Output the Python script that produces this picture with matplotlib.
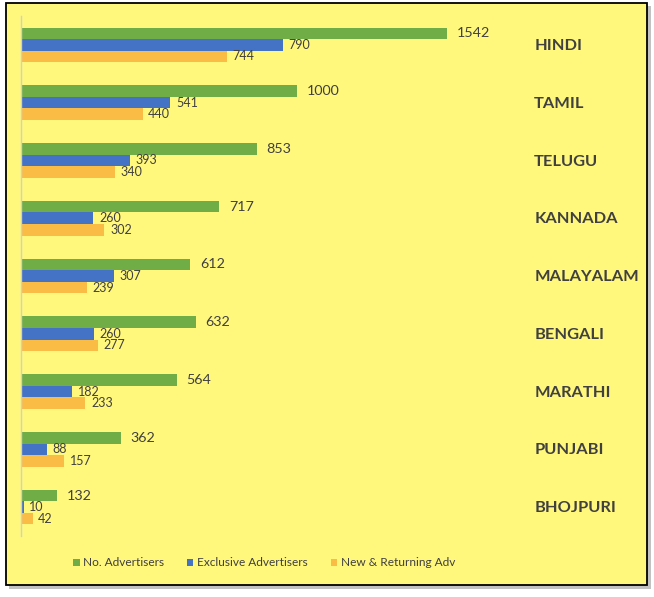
import matplotlib.pyplot as plt
import matplotlib.patches as mpatches
import numpy as np

plt.rcParams['font.family'] = ['Lato', 'DejaVu Sans']

languages = ['HINDI', 'TAMIL', 'TELUGU', 'KANNADA', 'MALAYALAM',
             'BENGALI', 'MARATHI', 'PUNJABI', 'BHOJPURI']
no_adv = [1542, 1000, 853, 717, 612, 632, 564, 362, 132]
exclusive_adv = [790, 541, 393, 260, 307, 260, 182, 88, 10]
# drawn blue bar lengths as they appear in the picture (not all match their labels)
exclusive_bar = [948, 541, 395, 262, 337, 265, 185, 95, 10]
new_returning = [744, 440, 340, 302, 239, 277, 233, 157, 42]

series_names = ['No. Advertisers', 'Exclusive Advertisers', 'New & Returning Adv']
colors = ['#70AD47', '#4472C4', '#FBBC45']
txt_color = '#404040'
bg_yellow = '#FFF87C'

W, H = 654, 597
fig = plt.figure(figsize=(W / 100, H / 100), dpi=100)
fig.patch.set_facecolor('white')

def px_rect(x0, y0, x1, y1):
    return (x0 / W, 1 - y1 / H, (x1 - x0) / W, (y1 - y0) / H)

# shadow + bordered yellow box
sx, sy, sw, sh = px_rect(9, 6, 651, 589)
fig.patches.append(mpatches.Rectangle((sx, sy), sw, sh, transform=fig.transFigure,
                                      facecolor='#9a9a9a', edgecolor='none', alpha=0.6, zorder=0))
bx, by, bw, bh = px_rect(6, 3, 647, 585)
fig.patches.append(mpatches.Rectangle((bx, by), bw, bh, transform=fig.transFigure,
                                      facecolor=bg_yellow, edgecolor='black', linewidth=1.3, zorder=1))

ax = fig.add_axes(px_rect(21, 16, 640, 536))
ax.set_facecolor('none')
ax.set_zorder(2)

y = np.arange(len(languages))
h = 0.2
bars = [no_adv, exclusive_bar, new_returning]
offsets = [-h, 0, h]
for vals, off, c, name in zip(bars, offsets, colors, series_names):
    ax.barh(y + off, vals, height=h, color=c, label=name)

for i in range(len(languages)):
    ax.annotate(str(no_adv[i]), (no_adv[i], y[i] - h), xytext=(7, 0), textcoords='offset points',
                va='center', ha='left', fontsize=10.3, color=txt_color)
    ax.annotate(str(exclusive_adv[i]), (exclusive_bar[i], y[i]), xytext=(4, 0), textcoords='offset points',
                va='center', ha='left', fontsize=9, color=txt_color)
    ax.annotate(str(new_returning[i]), (new_returning[i], y[i] + h), xytext=(4, 0), textcoords='offset points',
                va='center', ha='left', fontsize=9, color=txt_color)
    ax.text(0.829, y[i] + 0.02, languages[i], transform=ax.get_yaxis_transform(),
            va='center', ha='left', fontsize=11.8, fontweight='bold', color=txt_color)

ax.set_xlim(0, 2240)
ax.set_ylim(len(languages) - 0.5, -0.5)
ax.set_xticks([])
ax.set_yticks([])
for s in ['top', 'right', 'bottom']:
    ax.spines[s].set_visible(False)
ax.spines['left'].set_color('#D0D0D0')
ax.spines['left'].set_linewidth(1)

fig.legend(loc='center', bbox_to_anchor=(264 / W, 1 - 563 / H), ncol=3, frameon=False,
           fontsize=8.6, handlelength=0.55, handleheight=0.55, handletextpad=0.3,
           columnspacing=1.9, labelcolor=txt_color)

fig.savefig('out.png', dpi=100, facecolor='white')
